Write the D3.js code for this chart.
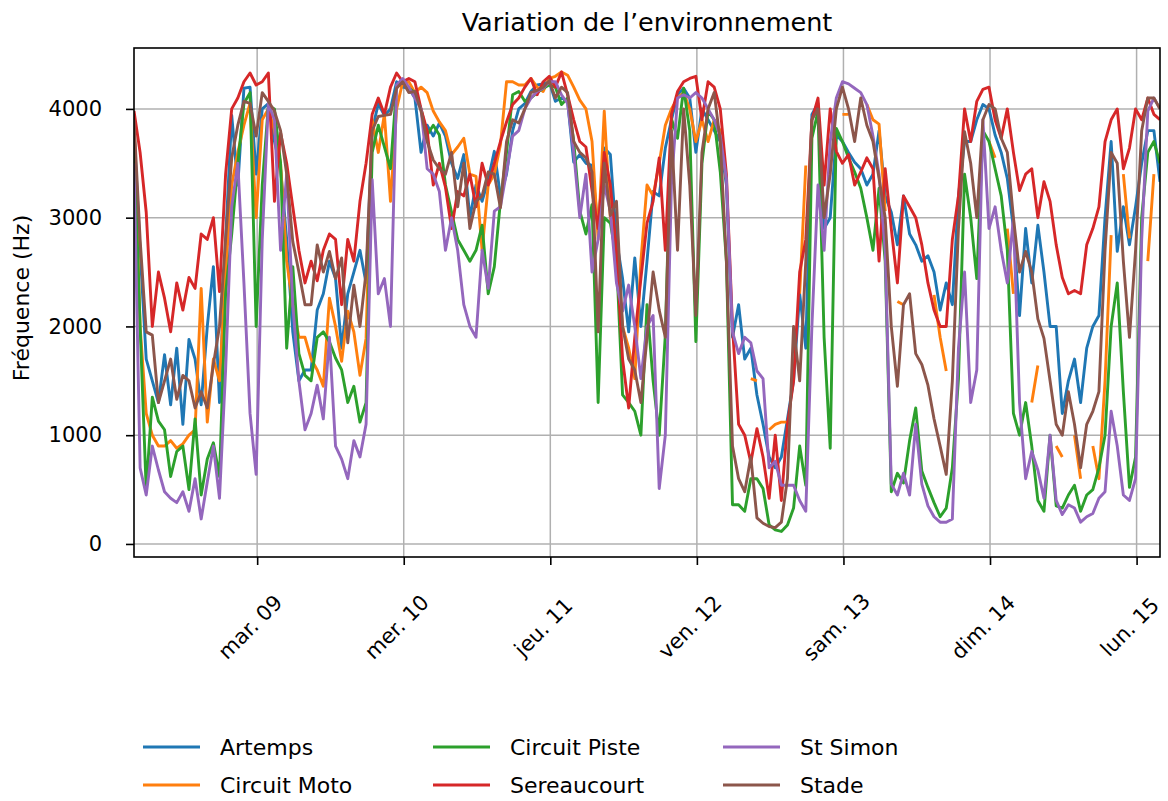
<!DOCTYPE html>
<meta charset="utf-8">
<style>
body {
  margin: 0;
  background: #fff;
  font-family: "DejaVu Sans", sans-serif;
}
.grid line {
  stroke: #b0b0b0;
  stroke-width: 1.5;
}
.series {
  fill: none;
  stroke-width: 2.9;
  stroke-linejoin: round;
}
</style>
<svg width="1168" height="801"></svg>
<script src="https://cdn.jsdelivr.net/npm/d3@7"></script>
<script>

// hourly samples, first one on Mon 8 March 2021 03:50
var start = new Date(2021, 2, 8, 3, 50);
var nPoints = 169;

var names = ["Artemps", "Circuit Moto", "Circuit Piste", "Sereaucourt", "St Simon", "Stade"];
var colors = ["#1f77b4", "#ff7f0e", "#2ca02c", "#d62728", "#9467bd", "#8c564b"];

var dayLabels = ["mar. 09", "mer. 10", "jeu. 11", "ven. 12", "sam. 13", "dim. 14", "lun. 15"];
var yTicks = [0, 1000, 2000, 3000, 4000];

var artemps = [
  3800, 2700, 1700, 1500, 1300, 1740, 1280, 1800, 1100, 1880, 1700, 1280, 2000, 2550, 1300, 2800, 3940, 3300, 4190, 4200, 3400, 4000, 4050, 3700, 3450, 2800, 1950, 1500, 1600,
  1600, 2150, 2300, 2600, 2440, 1800, 2300, 2500, 2700, 2400, 3800, 4050, 3940, 4000, 4250, 4200, 4190, 4100, 3600, 3850, 3750, 3870, 3750, 3500, 3360, 3580, 3000, 3300,
  3150, 3350, 3610, 3200, 3400, 3800, 4000, 4050, 4160, 4220, 4230, 4250, 4070, 4100, 4070, 3510, 3580, 3500, 3480, 2900, 3640, 3580, 2800, 2440, 1950, 2630, 2000, 2600,
  3240, 3200, 3640, 3900, 4130, 4190, 4100, 3600, 4000, 3900, 3800, 3700, 3300, 1900, 2200, 1700, 1800, 1370, 1100, 800, 700, 800, 1150, 1500, 2300, 1800, 3950, 4050,
  2900, 3000, 3760, 3700, 3600, 3510, 3450, 3300, 3400, 3800, 3200, 3050, 2750, 3200, 2850, 2750, 2600, 2650, 2500, 2150, 2400, 2200, 3200, 3700, 3700, 3900, 4040, 4000,
  3760, 3600, 3360, 2900, 2100, 2900, 2400, 2930, 2500, 2000, 2000, 1200, 1500, 1700, 1300, 1800, 2000, 2100, 3000, 3700, 2690, 3100, 2750, 3100, 3500, 3800, 3800, 3330
];

var circuitMoto = [
  3900, 2000, 1200, 1000, 900, 900, 950, 880, 920, 1000, 1050, 2350, 1120, 1700, 1500, 2500, 3300, 3600, 3850, 4050, 3000, 3900, 4000, 3800, 3500, 2600, 2200, 1900, 1900,
  1700, 1600, 1450, 2260, 2000, 1680, 2140, 1950, 1550, 1890, 3900, 3600, 3950, 3150, 4000, 4250, 4250, 4150, 4200, 4150, 3980, 3880, 3800, 3580, 3650, 3730, 3400, 3380,
  2700, 3300, 3400, 3670, 4250, 4250, 4220, 4220, 4280, 4200, 4160, 4280, 4300, 4340, 4310, 4200, 4080, 4000, 3700, 2800, 3980, 3000, 2690, 2000, 1800, 1520, 2600, 3300,
  3200, 3500, 3850, 4000, 4100, 4150, 4000, 3700, 3900, 3700, 3900, 3800, 3350, null, null, null, 1520, 1500, null, 1050, 1100, 1120, 1120, null, 2300, 3480, null, null,
  null, null, null, 3950, 3950, null, null, 4040, 3900, 3860, 3060, null, 2230, 2200, null, null, null, null, 2290, 1900, 1590, null, null, null, null, null, null, 3700,
  3550, null, 2900, 2300, null, null, 1300, 1640, null, null, 900, 800, null, 1000, 600, null, 900, 600, 1500, 2840, null, 3400, 2810, null, null, 2600, 3400, null
];

var circuitPiste = [
  3700, 2000, 500, 1350, 1130, 1050, 620, 850, 900, 500, 1150, 450, 780, 930, 620, 2300, 2850, 3500, 4050, 4150, 2000, 3300, 4030, 4000, 3500, 1800, 2550, 1750, 1550,
  1500, 1900, 1950, 1860, 1710, 1600, 1300, 1450, 1120, 1300, 3600, 3850, 3650, 3450, 4200, 4250, 4190, 4150, 4000, 3760, 3850, 3760, 3300, 3050, 2800, 2700, 2600, 2700,
  2930, 2300, 2550, 3150, 3600, 4130, 4160, 4070, 4100, 4150, 4190, 4220, 4200, 4040, 4100, 3700, 3060, 2850, 3120, 1300, 3000, 2950, 2630, 1370, 1300, 1220, 1000, 2200,
  1500, 1000, 1920, 3910, 3730, 4190, 3800, 1860, 3500, 3980, 3900, 3420, 2600, 360, 360, 300, 600, 600, 510, 175, 130, 115, 175, 330, 900, 540, 3730, 3980,
  1900, 880, 3820, 3700, 3550, 3420, 3270, 3000, 2700, 3270, 2600, 480, 650, 560, 950, 1250, 670, 520, 380, 250, 330, 700, 1520, 3400, 3000, 2440, 3800, 3700,
  3450, 3200, 2700, 1200, 1000, 1300, 900, 400, 300, 1000, 350, 330, 450, 540, 300, 450, 500, 700, 1000, 2000, 2400, 1400, 520, 800, 3000, 3600, 3700, 3500
];

var sereaucourt = [
  3980, 3600, 3050, 2000, 2500, 2260, 1950, 2400, 2150, 2450, 2350, 2850, 2800, 3000, 2320, 3400, 4000, 4100, 4250, 4330, 4220, 4250, 4330, 3150, 3780, 3500, 3100, 2700, 2400,
  2600, 2420, 2700, 2850, 2800, 2200, 2800, 2600, 3150, 3500, 3950, 4100, 3950, 4200, 4330, 4250, 4280, 4250, 4000, 3800, 3300, 3500, 3280, 2900, 3240, 3200, 3400, 3100,
  3500, 3300, 3500, 3700, 3880, 4040, 4100, 4200, 4280, 4130, 4250, 4300, 4200, 4340, 4130, 3900, 3700, 3650, 3250, 2900, 3600, 3300, 2700, 1700, 1250, 1900, 2440, 2950,
  3150, 3550, 2700, 3950, 4160, 4250, 4280, 4300, 3900, 4250, 4200, 4000, 3400, 2000, 1100, 1000, 750, 1060, 800, 420, 1000, 400, 1100, 1500, 2500, 2800, 3900, 4100,
  3300, 4000, 3610, 3500, 3580, 3300, 3420, 3550, 3450, 2600, 3450, 2900, 2400, 3200, 3100, 3000, 2750, 2400, 2150, 2000, 2000, 2800, 3200, 4000, 3700, 4070, 4180, 4200,
  3900, 3730, 4000, 3600, 3250, 3400, 3450, 3000, 3330, 3150, 2750, 2450, 2300, 2330, 2300, 2750, 2900, 3100, 3700, 3900, 4000, 3450, 3640, 4000, 3900, 4100, 3950, 3900
];

var stSimon = [
  3500, 700, 450, 900, 680, 480, 420, 380, 480, 300, 600, 230, 570, 900, 420, 1600, 3100, 3500, 2400, 1200, 640, 2800, 4050, 3900, 2700, 3400, 2200, 1500, 1050,
  1200, 1460, 1150, 1900, 900, 780, 600, 950, 800, 1100, 3350, 2300, 2440, 2000, 4220, 4280, 4200, 4100, 4000, 3450, 3400, 3240, 2700, 3000, 2700, 2200, 2000, 1900,
  2700, 2350, 3060, 3100, 3420, 3750, 3800, 4000, 4100, 4160, 4190, 4250, 4250, 4130, 4050, 3600, 3000, 3400, 2500, 2800, 3300, 3060, 2400, 2140, 2380, 2000, 1520, 2000,
  2100, 510, 1000, 3300, 4100, 4130, 4100, 4150, 4100, 4000, 3900, 3750, 3360, 1950, 1750, 1900, 1850, 1590, 1520, 700, 760, 540, 540, 540, 400, 300, 2000, 3300,
  2700, 3700, 4100, 4250, 4230, 4190, 4150, 4040, 3750, 3400, 2700, 550, 450, 650, 450, 1100, 550, 350, 250, 200, 200, 230, 1800, 2500, 1300, 1600, 3900, 2900,
  3100, 2700, 2400, 3000, 1300, 600, 850, 680, 420, 1000, 400, 270, 360, 330, 200, 250, 280, 420, 480, 1220, 900, 450, 400, 600, 2800, 3980, 4100, 4000
];

var stade = [
  3900, 2800, 1950, 1920, 1300, 1500, 1700, 1330, 1550, 1500, 1250, 1400, 1250, 1650, 2000, 2800, 3550, 3850, 4070, 4050, 3750, 4150, 4070, 3980, 3800, 3400, 2780, 2500, 2200,
  2200, 2750, 2500, 2690, 2440, 2630, 1850, 2380, 2000, 2500, 3800, 3930, 3940, 3950, 4190, 4250, 4150, 4160, 3980, 3700, 3530, 3450, 3400, 3600, 3100, 3500, 2900, 3150,
  3200, 3420, 3400, 3090, 3700, 3900, 3870, 4000, 4150, 4170, 4200, 4260, 4100, 4200, 4150, 3700, 3600, 3550, 3420, 1950, 3500, 3020, 3150, 2000, 1700, 1600, 1300, 1900,
  2500, 2150, 1900, 3800, 2700, 4000, 3300, 2100, 3600, 4000, 4150, 3700, 2600, 900, 600, 480, 800, 240, 190, 160, 150, 200, 600, 2000, 1500, 2600, 3900, 4000,
  3000, 3400, 4000, 4200, 4000, 3700, 4100, 3850, 3700, 3360, 3000, 2000, 1450, 2200, 2300, 1750, 1650, 1460, 1150, 900, 640, 1500, 2900, 3790, 3500, 3000, 3900, 4040,
  4000, 3730, 3600, 3000, 2500, 2690, 2500, 2070, 1890, 1500, 1100, 1000, 1400, 1100, 700, 1100, 1220, 1400, 2700, 3600, 3500, 2600, 1900, 2700, 3800, 4100, 4100, 4000
];

var allSeries = [artemps, circuitMoto, circuitPiste, sereaucourt, stSimon, stade];

var svg = d3.select("svg");

var margin = {left: 134, right: 1160, top: 48, bottom: 557};

var times = d3.range(nPoints).map(function(i) { return d3.timeHour.offset(start, i); });

var x = d3.scaleTime()
    .domain(d3.extent(times))
    .range([margin.left, margin.right]);

var y = d3.scaleLinear()
    .domain([-120, 4560])
    .range([margin.bottom, margin.top]);

var dayTicks = d3.timeDay.range(d3.timeDay.ceil(start), x.domain()[1]);

// grid
var grid = svg.append("g").attr("class", "grid");
grid.selectAll(".gx")
  .data(dayTicks)
  .enter().append("line")
    .attr("x1", function(d) { return x(d); })
    .attr("x2", function(d) { return x(d); })
    .attr("y1", margin.top)
    .attr("y2", margin.bottom);
grid.selectAll(".gy")
  .data(yTicks)
  .enter().append("line")
    .attr("x1", margin.left)
    .attr("x2", margin.right)
    .attr("y1", function(d) { return y(d); })
    .attr("y2", function(d) { return y(d); });

// lines
svg.append("clipPath").attr("id", "clip")
  .append("rect")
    .attr("x", margin.left).attr("y", margin.top)
    .attr("width", margin.right - margin.left)
    .attr("height", margin.bottom - margin.top);

var line = d3.line()
    .defined(function(d) { return d != null; })
    .x(function(d, i) { return x(times[i]); })
    .y(function(d) { return y(d); });

svg.append("g").attr("clip-path", "url(#clip)")
  .selectAll(".series")
  .data(allSeries)
  .enter().append("path")
    .attr("class", "series")
    .attr("stroke", function(d, i) { return colors[i]; })
    .attr("d", line);

// frame
svg.append("rect")
    .attr("x", margin.left).attr("y", margin.top)
    .attr("width", margin.right - margin.left)
    .attr("height", margin.bottom - margin.top)
    .attr("fill", "none")
    .attr("stroke", "#000")
    .attr("stroke-width", 1.6);

// y axis
var yAxis = svg.append("g")
    .attr("transform", "translate(" + margin.left + ",0)")
    .call(d3.axisLeft(y).tickValues(yTicks).tickSize(8).tickPadding(24).tickFormat(d3.format("d")));
yAxis.select(".domain").remove();
yAxis.selectAll(".tick line").attr("stroke-width", 1.6);
yAxis.selectAll("text")
    .attr("font-family", "DejaVu Sans")
    .attr("font-size", 21)
    .attr("fill", "#000");

// x axis
var xAxis = svg.append("g")
    .attr("transform", "translate(0," + margin.bottom + ")")
    .call(d3.axisBottom(x).tickValues(dayTicks).tickSize(8).tickFormat(""));
xAxis.select(".domain").remove();
xAxis.selectAll(".tick line").attr("stroke-width", 1.6);

svg.append("g").selectAll("text")
  .data(dayTicks)
  .enter().append("text")
    .attr("transform", function(d) { return "translate(" + (x(d) - 7) + ",627) rotate(-45)"; })
    .attr("text-anchor", "middle")
    .attr("dy", "0.35em")
    .attr("font-size", 21)
    .text(function(d, i) { return dayLabels[i]; });

// labels
svg.append("text")
    .attr("x", (margin.left + margin.right) / 2)
    .attr("y", 31)
    .attr("text-anchor", "middle")
    .attr("font-size", 25.5)
    .text("Variation de l’environnement");

svg.append("text")
    .attr("transform", "translate(29,298) rotate(-90)")
    .attr("text-anchor", "middle")
    .attr("font-size", 22)
    .text("Fréquence (Hz)");

// legend: 3 columns, 2 rows, filled column by column
var legend = svg.append("g").selectAll("g")
  .data(names)
  .enter().append("g")
    .attr("transform", function(d, i) {
      return "translate(" + (143 + Math.floor(i / 2) * 290) + "," + (747 + (i % 2) * 38) + ")";
    });
legend.append("line")
    .attr("x1", 0).attr("x2", 57)
    .attr("stroke", function(d, i) { return colors[i]; })
    .attr("stroke-width", 3);
legend.append("text")
    .attr("x", 77)
    .attr("dy", "0.35em")
    .attr("font-size", 22)
    .text(function(d) { return d; });

</script>
